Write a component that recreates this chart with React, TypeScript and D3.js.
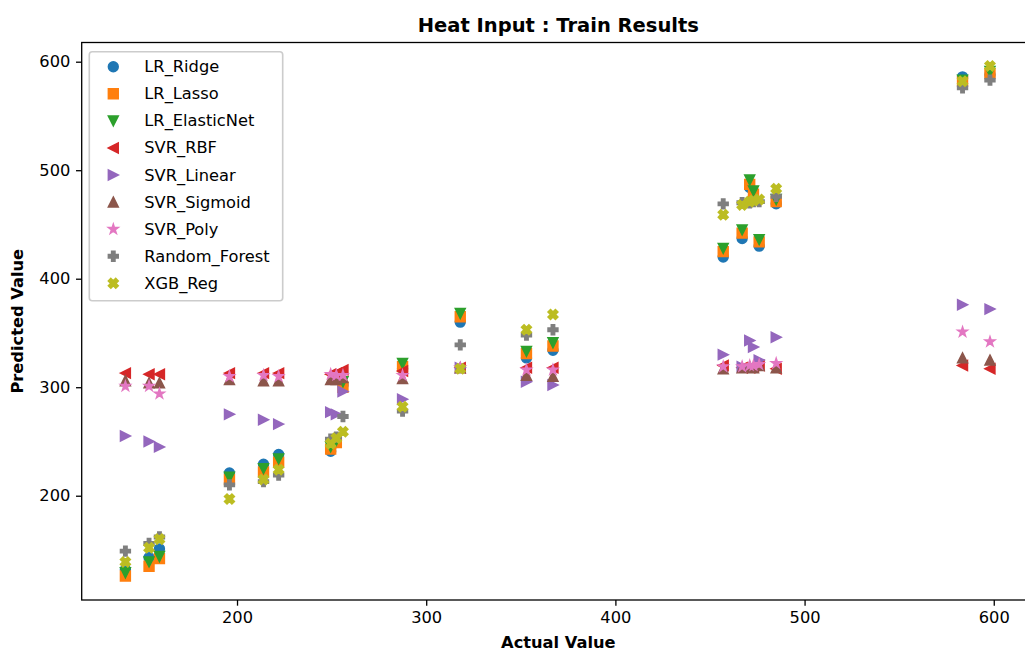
import { useEffect, useRef } from "react";
import * as d3 from "d3";

// actual values (x) shared by all models
const actual = [141, 153.5, 159, 196, 214, 222, 249.5, 252.5, 256, 287.5, 318, 353, 367, 457, 467, 471, 473, 476, 485, 583.5, 598];

// predicted values per model
const lrRidge = [132, 143, 151, 221, 229, 238, 241, 249, 302, 317, 360, 327, 334, 420, 437, 484, 476, 430, 469, 586, 588];
const lrLasso = [126, 135, 142, 215, 222, 231, 243, 249, 300, 319, 365, 331, 338, 425, 442, 487, 478, 434, 471, 582, 589];
const lrElasticNet = [129, 139, 144, 217, 225, 234, 245, 251, 305, 322, 368, 333, 341, 428, 445, 491, 481, 436, 473, 583, 591];
const svrRbf = [313, 312, 312, 313, 313, 313, 312, 313, 316, 315, 318, 318, 318, 320, 318, 318, 319, 320, 317, 320, 317];
const svrLinear = [255, 250, 245, 275, 270, 266, 277, 275, 296, 289, 318, 305, 302, 330, 319, 343, 337, 325, 346, 376, 372];
const svrSigmoid = [306, 304, 304, 307, 306, 306, 307, 307, 309, 308, 318, 311, 310, 317, 318, 319, 318, 320, 318, 327, 325];
const svrPoly = [301, 301, 294, 310, 311, 310, 312, 311, 311, 311, 318, 316, 316, 319, 319, 320, 320, 321, 322, 351, 342];
const randomForest = [149, 156, 162, 210, 213, 219, 252, 254, 273, 278, 339, 348, 353, 469, 470, 470, 471, 471, 476, 576, 583];
const xgbReg = [139, 152, 160, 197, 215, 224, 248, 253, 259, 282, 317, 353, 367, 459, 468, 471, 472, 473, 483, 582, 596];

const seriesNames = ["LR_Ridge", "LR_Lasso", "LR_ElasticNet", "SVR_RBF", "SVR_Linear", "SVR_Sigmoid", "SVR_Poly", "Random_Forest", "XGB_Reg"];
const seriesValues = [lrRidge, lrLasso, lrElasticNet, svrRbf, svrLinear, svrSigmoid, svrPoly, randomForest, xgbReg];
const colors = ["#1f77b4", "#ff7f0e", "#2ca02c", "#d62728", "#9467bd", "#8c564b", "#e377c2", "#7f7f7f", "#bcbd22"];

const xTicks = [200, 300, 400, 500, 600];
const yTicks = [200, 300, 400, 500, 600];

const W = 1025;
const H = 651;
const plot = { left: 81.7, right: 1035, top: 42.5, bottom: 600 };
const FONT = "DejaVu Sans, sans-serif";
const PT = 117 / 72; // px per point

// matplotlib-like marker shapes, size = (box width)^2
const poly = (pts) => ({
  draw(ctx, size) {
    const m = Math.sqrt(size);
    pts.forEach(([px, py], i) => (i ? ctx.lineTo(px * m, py * m) : ctx.moveTo(px * m, py * m)));
    ctx.closePath();
  },
});
const circle = {
  draw(ctx, size) {
    const r = Math.sqrt(size) / 2;
    ctx.moveTo(r, 0);
    ctx.arc(0, 0, r, 0, 2 * Math.PI);
  },
};
const starPts = d3.range(10).map((i) => {
  const a = (i * Math.PI) / 5 - Math.PI / 2;
  const r = i % 2 ? 0.5 * 0.381966 : 0.5;
  return [r * Math.cos(a), r * Math.sin(a)];
});
const plusPts = [[-1, -3], [1, -3], [1, -1], [3, -1], [3, 1], [1, 1], [1, 3], [-1, 3], [-1, 1], [-3, 1], [-3, -1], [-1, -1]].map(([a, b]) => [a / 6, b / 6]);
const xPts = [[-1, -2], [0, -1], [1, -2], [2, -1], [1, 0], [2, 1], [1, 2], [0, 1], [-1, 2], [-2, 1], [-1, 0], [-2, -1]].map(([a, b]) => [a / 4, b / 4]);

const markers = [
  circle,
  poly([[-0.5, -0.5], [0.5, -0.5], [0.5, 0.5], [-0.5, 0.5]]),
  poly([[-0.5, -0.5], [0.5, -0.5], [0, 0.5]]),
  poly([[-0.5, 0], [0.5, -0.5], [0.5, 0.5]]),
  poly([[0.5, 0], [-0.5, -0.5], [-0.5, 0.5]]),
  poly([[0, -0.5], [0.5, 0.5], [-0.5, 0.5]]),
  poly(starPts),
  poly(plusPts),
  poly(xPts),
];

const MS = 6 * PT;
const tickFont = 10 * PT;

export default function App() {
  const xAxisRef = useRef(null);
  const yAxisRef = useRef(null);

  const x = d3.scaleLinear().domain([117.9, 621.8]).range([plot.left, plot.right]);
  const y = d3.scaleLinear().domain([103.9, 617.7]).range([plot.bottom, plot.top]);

  useEffect(() => {
    const xa = d3.select(xAxisRef.current);
    xa.selectAll("*").remove();
    xa.call(d3.axisBottom(x).tickValues(xTicks).tickSize(3.5 * PT).tickPadding(3.5 * PT).tickSizeOuter(0));
    const ya = d3.select(yAxisRef.current);
    ya.selectAll("*").remove();
    ya.call(d3.axisLeft(y).tickValues(yTicks).tickSize(3.5 * PT).tickPadding(3.5 * PT).tickSizeOuter(0));
    [xa, ya].forEach((g) => {
      g.select(".domain").remove();
      g.selectAll("line").attr("stroke", "#000").attr("stroke-width", 0.8 * PT);
      g.selectAll("text").attr("fill", "#000").style("font-family", FONT).style("font-size", tickFont + "px");
    });
  }, []);

  const sym = (i) => d3.symbol().type(markers[i]).size(MS * MS)();

  return (
    <svg width={W} height={H} style={{ position: "absolute", left: 0, top: 0, background: "#fff" }}>
      <text x={(plot.left + plot.right) / 2} y={25} textAnchor="middle" dominantBaseline="central" fontFamily={FONT} fontWeight="bold" fontSize={12 * PT}>
        Heat Input : Train Results
      </text>

      {seriesValues.map((vals, i) => (
        <g key={seriesNames[i]} fill={colors[i]} stroke={colors[i]} strokeWidth={PT}>
          {vals.map((v, j) => (
            <path key={j} d={sym(i)} transform={`translate(${x(actual[j])},${y(v)})`} />
          ))}
        </g>
      ))}

      <rect x={plot.left} y={plot.top} width={plot.right - plot.left} height={plot.bottom - plot.top} fill="none" stroke="#000" strokeWidth={0.8 * PT} />
      <g ref={xAxisRef} transform={`translate(0,${plot.bottom})`} />
      <g ref={yAxisRef} transform={`translate(${plot.left},0)`} />

      <text x={(plot.left + plot.right) / 2} y={642} textAnchor="middle" dominantBaseline="central" fontFamily={FONT} fontWeight="bold" fontSize={tickFont}>
        Actual Value
      </text>
      <text transform={`translate(17,${(plot.top + plot.bottom) / 2}) rotate(-90)`} textAnchor="middle" dominantBaseline="central" fontFamily={FONT} fontWeight="bold" fontSize={tickFont}>
        Predicted Value
      </text>

      <g>
        <rect x={89.3} y={51.7} width={193.4} height={249} rx={3} fill="#fff" fillOpacity={0.8} stroke="#cccccc" strokeWidth={PT} />
        {seriesNames.map((name, i) => (
          <g key={name} transform={`translate(0,${66.7 + i * 27.08})`}>
            <path d={sym(i)} transform="translate(113.3,0)" fill={colors[i]} stroke={colors[i]} strokeWidth={PT} />
            <text x={144.3} y={0} dominantBaseline="central" fontFamily={FONT} fontSize={tickFont}>
              {name}
            </text>
          </g>
        ))}
      </g>
    </svg>
  );
}
